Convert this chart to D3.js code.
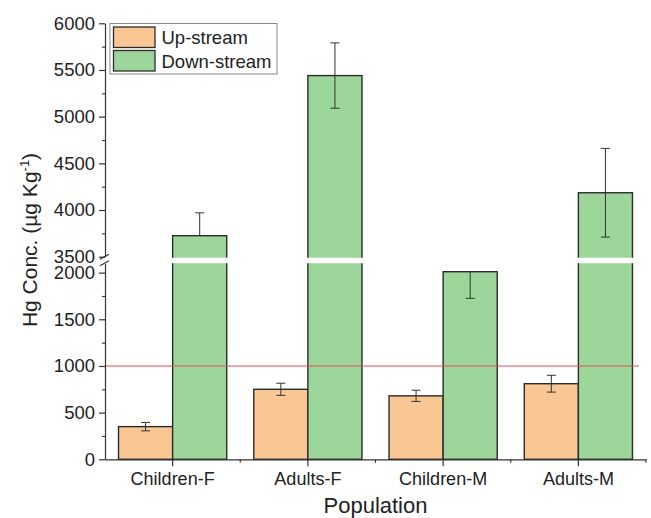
<!DOCTYPE html>
<html>
<head>
<meta charset="utf-8">
<script src="https://cdn.jsdelivr.net/npm/d3@7"></script>
<style>
  body { margin: 0; background: #fff; }
  text { font-family: "Liberation Sans", Arial, sans-serif; fill: #222; }
</style>
</head>
<body>
<script>
// data
const categories = ["Children-F", "Adults-F", "Children-M", "Adults-M"];
const seriesNames = ["Up-stream", "Down-stream"];
const upValues = [350, 750, 680, 810];
const upErrors = [45, 65, 60, 90];
const downValues = [3725, 5440, 2010, 4185];
const downErrors = [245, 350, 285, 475];
const lowTicks = [0, 500, 1000, 1500, 2000];
const highTicks = [3500, 4000, 4500, 5000, 5500, 6000];
const refLine = 1000;

const colors = { "Up-stream": "#f9c794", "Down-stream": "#9dd69a" };

const width = 651, height = 518;
const left = 105, right = 646;

const rows = [];
categories.forEach((c, i) => {
    rows.push({ cat: c, s: "Up-stream", v: upValues[i], e: upErrors[i] });
    rows.push({ cat: c, s: "Down-stream", v: downValues[i], e: downErrors[i] });
});

const svg = d3.select("body").append("svg")
    .attr("width", width)
    .attr("height", height);

// x scales
const x = d3.scaleBand().domain(categories).range([left, right]).padding(0);
const xSub = d3.scaleBand().domain(seriesNames).range([0, x.bandwidth()]).paddingInner(0).paddingOuter(0.25);

// two y segments (broken axis)
const yLow = d3.scaleLinear().domain([0, 2100]).range([459.3, 263.3]);
const yHigh = d3.scaleLinear().domain([3500, 6000]).range([256.7, 23.3]);
const segments = [{ id: "low", y: yLow, ticks: lowTicks }, { id: "high", y: yHigh, ticks: highTicks }];

const defs = svg.append("defs");
segments.forEach(seg => {
    const r = seg.y.range();
    defs.append("clipPath").attr("id", "clip-" + seg.id)
        .append("rect")
        .attr("x", left - 1).attr("width", right - left + 2)
        .attr("y", r[1]).attr("height", r[0] - r[1] + 1);
});

// bars, clipped to each segment so the break has no top edge
segments.forEach(seg => {
    const g = svg.append("g").attr("clip-path", "url(#clip-" + seg.id + ")");
    const y = seg.y;
    const d0 = y.domain();
    g.selectAll("rect.bar")
        .data(rows.filter(d => d.v > d0[0]))
        .enter()
        .append("rect")
        .attr("class", "bar")
        .attr("x", d => x(d.cat) + xSub(d.s))
        .attr("width", xSub.bandwidth())
        .attr("y", d => y(d.v))
        .attr("height", d => y(0) - y(d.v))
        .attr("fill", d => colors[d.s])
        .attr("stroke", "#2b2b2b")
        .attr("stroke-width", 1.4);

    // error bars: draw a half only when value and cap are inside this segment
    const inSeg = v => v >= d0[0] && v <= d0[1];
    const eg = svg.append("g");
    rows.forEach(d => {
        if (!inSeg(d.v)) return;
        const cx = x(d.cat) + xSub(d.s) + xSub.bandwidth() / 2;
        [d.v + d.e, d.v - d.e].forEach(cap => {
            if (!inSeg(cap)) return;
            eg.append("line")
                .attr("x1", cx).attr("x2", cx)
                .attr("y1", y(d.v)).attr("y2", y(cap))
                .attr("stroke", "#333").attr("stroke-width", 1);
            eg.append("line")
                .attr("x1", cx - 4.5).attr("x2", cx + 4.5)
                .attr("y1", y(cap)).attr("y2", y(cap))
                .attr("stroke", "#333").attr("stroke-width", 1);
        });
    });
});

// reference line
svg.append("line")
    .attr("x1", left).attr("x2", 639)
    .attr("y1", yLow(refLine)).attr("y2", yLow(refLine))
    .attr("stroke", "#e05050").attr("stroke-width", 1.1);

// y axes
segments.forEach(seg => {
    const ax = svg.append("g")
        .attr("transform", "translate(" + left + ",0)")
        .call(d3.axisLeft(seg.y).tickValues(seg.ticks).tickFormat(d3.format("d"))
            .tickSize(6).tickSizeOuter(0).tickPadding(4));
    ax.select(".domain").attr("stroke", "#333").attr("stroke-width", 1.2);
    ax.selectAll(".tick line").attr("stroke", "#333").attr("stroke-width", 1.2);
    ax.selectAll("text").style("font-size", "18.5px").attr("fill", "#222");
    const minor = seg.ticks.slice(0, -1).map(t => t + 250).filter(t => t <= seg.y.domain()[1]);
    svg.append("g")
        .attr("transform", "translate(" + left + ",0)")
        .call(d3.axisLeft(seg.y).tickValues(minor).tickSize(3).tickFormat("").tickSizeOuter(0))
        .call(a => a.select(".domain").remove())
        .selectAll("line").attr("stroke", "#333").attr("stroke-width", 1.1);
});

// break marks on y axis
[yHigh.range()[0], yLow.range()[1]].forEach(yy => {
    svg.append("line")
        .attr("x1", left - 5).attr("x2", left + 4)
        .attr("y1", yy + 2.5).attr("y2", yy - 2.5)
        .attr("stroke", "#333").attr("stroke-width", 1.1);
});

// x axis
const xAxis = svg.append("g")
    .attr("transform", "translate(0," + yLow(0) + ")")
    .call(d3.axisBottom(x).tickSize(7).tickSizeOuter(0).tickPadding(6));
xAxis.select(".domain").attr("stroke", "#333").attr("stroke-width", 1.2);
xAxis.selectAll(".tick line").attr("stroke", "#333").attr("stroke-width", 1.2);
xAxis.selectAll("text").style("font-size", "18px").attr("fill", "#222");
// minor ticks at band edges
const edges = categories.map(c => x(c)).concat([x.range()[1]]).slice(1);
svg.append("g").selectAll("line")
    .data(edges).enter().append("line")
    .attr("x1", d => d).attr("x2", d => d)
    .attr("y1", yLow(0)).attr("y2", yLow(0) + 3.5)
    .attr("stroke", "#333").attr("stroke-width", 1.1);

// axis titles
svg.append("text")
    .attr("x", (left + right) / 2)
    .attr("y", 513)
    .attr("text-anchor", "middle")
    .style("font-size", "22px")
    .text("Population");

const yt = svg.append("text")
    .attr("transform", "translate(37,240) rotate(-90)")
    .attr("text-anchor", "middle")
    .style("font-size", "21px");
yt.append("tspan").text("Hg Conc. (µg Kg");
yt.append("tspan").attr("dy", -8).style("font-size", "13px").text("-1");
yt.append("tspan").attr("dy", 8).text(")");

// legend
const lg = svg.append("g").attr("transform", "translate(110,23.5)");
lg.append("rect")
    .attr("width", 167).attr("height", 50.5)
    .attr("fill", "#fff").attr("stroke", "#888").attr("stroke-width", 1);
seriesNames.forEach((s, i) => {
    lg.append("rect")
        .attr("x", 3.5).attr("y", 3.5 + i * 23.5)
        .attr("width", 41.5).attr("height", 20.5)
        .attr("fill", colors[s]).attr("stroke", "#2b2b2b").attr("stroke-width", 1.3);
    lg.append("text")
        .attr("x", 51.5).attr("y", 20.5 + i * 23.5)
        .style("font-size", "18.5px")
        .text(s);
});
</script>
</body>
</html>
